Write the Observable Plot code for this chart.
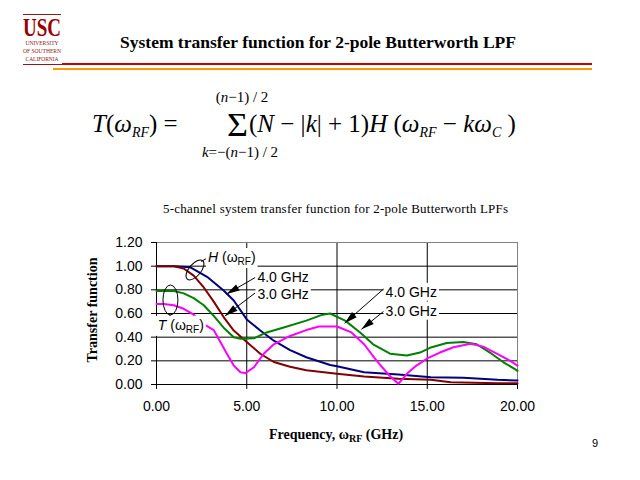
<!DOCTYPE html>
<html>
<head>
<meta charset="utf-8">
<script src="https://cdn.jsdelivr.net/npm/d3@7"></script>
<script src="https://cdn.jsdelivr.net/npm/@observablehq/plot@0.6"></script>
<style>
  body { margin: 0; background: #fff; }
  #wrap { position: relative; width: 640px; height: 480px; overflow: hidden; }
  #wrap > svg.deco { position: absolute; left: 0; top: 0; }
</style>
</head>
<body>
<div id="wrap"></div>
<script>
// ---- Data ----
// H(ωRF), 2-pole Butterworth LPF, 4.0 GHz cutoff (navy)
const freqH4 = [0, 1.0, 1.88, 2.8, 3.72, 4.28, 5.0, 5.75, 6.5, 7.4, 8.3, 9.62, 10, 11.5, 13.4, 15.2, 17.0, 18.9, 20];
const valH4  = [1.00, 1.00, 0.99, 0.91, 0.795, 0.71, 0.55, 0.456, 0.37, 0.29, 0.23, 0.165, 0.155, 0.104, 0.085, 0.062, 0.057, 0.040, 0.034];
// H(ωRF), 3.0 GHz cutoff (dark red)
const freqH3 = [0, 0.96, 1.51, 2.06, 2.62, 3.17, 3.72, 4.28, 5.0, 5.75, 6.5, 7.4, 8.3, 10, 11.5, 13.4, 15.2, 16.3, 18.9, 20];
const valH3  = [1.00, 1.00, 0.98, 0.92, 0.82, 0.70, 0.57, 0.456, 0.36, 0.26, 0.19, 0.15, 0.12, 0.09, 0.068, 0.048, 0.04, 0.02, 0.011, 0.011];
// T(ωRF), 4.0 GHz (green)
const freqT4 = [0, 0.96, 1.51, 2.06, 2.62, 3.17, 3.72, 4.28, 4.65, 5.4, 6.1, 7.0, 8.3, 9.2, 9.62, 10.45, 11.28, 12.0, 12.94, 13.87, 14.6, 15.15, 16.08, 17.0, 17.74, 18.47, 19.2, 19.86, 20];
const valT4  = [0.79, 0.79, 0.77, 0.73, 0.67, 0.58, 0.48, 0.40, 0.386, 0.39, 0.44, 0.48, 0.54, 0.59, 0.60, 0.54, 0.44, 0.34, 0.26, 0.245, 0.27, 0.31, 0.35, 0.36, 0.34, 0.27, 0.19, 0.13, 0.115];
// T(ωRF), 3.0 GHz (magenta)
const freqT3 = [0, 0.4, 0.96, 1.51, 2.06, 2.62, 3.17, 3.5, 3.9, 4.28, 4.65, 4.92, 5.4, 5.94, 6.5, 7.4, 8.3, 9.0, 10, 10.8, 11.5, 12.2, 12.9, 13.4, 13.87, 14.4, 15.0, 15.7, 16.45, 17.4, 18.1, 18.85, 19.6, 20];
const valT3  = [0.68, 0.68, 0.67, 0.64, 0.59, 0.51, 0.46, 0.37, 0.26, 0.16, 0.104, 0.096, 0.146, 0.26, 0.34, 0.41, 0.46, 0.49, 0.49, 0.44, 0.34, 0.20, 0.076, 0.006, 0.09, 0.16, 0.22, 0.27, 0.315, 0.344, 0.32, 0.26, 0.20, 0.16];

const seriesNames  = ["H 4.0 GHz", "H 3.0 GHz", "T 4.0 GHz", "T 3.0 GHz"];
const seriesColors = ["#000080", "#800000", "#008000", "#ff00ff"];

const xTicks = [0, 5, 10, 15, 20];
const yTicks = [0, 0.2, 0.4, 0.6, 0.8, 1.0, 1.2];
const xGrid = [5, 10, 15];
const yGrid = [0.2, 0.4, 0.6, 0.8, 1.0];

// annotation texts and anchor positions (data units)
const gLabels = ["4.0 GHz", "3.0 GHz", "4.0 GHz", "3.0 GHz"];
const gLabelF = [5.62, 5.62, 12.72, 12.72];
const gLabelV = [0.905, 0.76, 0.78, 0.62];
const arrowF1 = [5.5, 5.5, 12.62, 12.62];
const arrowV1 = [0.90, 0.77, 0.805, 0.615];
const arrowF2 = [3.91, 3.82, 10.45, 11.38];
const arrowV2 = [0.76, 0.575, 0.513, 0.462];

// ---- Build table ----
const rows = [];
[[freqH4, valH4], [freqH3, valH3], [freqT4, valT4], [freqT3, valT3]].forEach(([fs, vs], i) => {
  fs.forEach((f, j) => rows.push({series: seriesNames[i], f, v: vs[j]}));
});

const plot = Plot.plot({
  width: 640,
  height: 480,
  marginLeft: 156,
  marginRight: 123,
  marginTop: 242,
  marginBottom: 96,
  style: {fontFamily: "'Liberation Sans', Arial, sans-serif", fontSize: "14px", color: "#000", background: "#fff"},
  x: {domain: [0, 20], axis: null},
  y: {domain: [0, 1.2], axis: null},
  color: {domain: seriesNames, range: seriesColors},
  marks: [
    Plot.ruleY(yGrid, {stroke: "#000", strokeWidth: 1}),
    Plot.ruleX(xGrid, {stroke: "#000", strokeWidth: 1}),
    Plot.ruleY([1.2], {stroke: "#808080"}),
    Plot.ruleX([20], {stroke: "#808080"}),
    Plot.ruleX([0], {stroke: "#000"}),
    Plot.ruleY([0], {stroke: "#000"}),
    Plot.axisY(yTicks, {tickFormat: d3.format(".2f"), tickSize: 5, tickPadding: 9, label: null, fontSize: 14}),
    Plot.axisX(xTicks, {tickFormat: d3.format(".2f"), tickSize: 5, tickPadding: 12, label: null, fontSize: 14}),
    Plot.line(rows, {x: "f", y: "v", z: "series", stroke: "series", strokeWidth: 2, curve: "linear"})
  ]
});
document.getElementById("wrap").appendChild(plot);

// ---- annotations, placed through the plot's own scales ----
const X = v => plot.scale("x").apply(v);
const Y = v => plot.scale("y").apply(v);
const ann = d3.select(plot).append("g")
  .attr("font-family", "'Liberation Sans', Arial, sans-serif")
  .attr("font-size", 14)
  .attr("text-anchor", "start")
  .attr("fill", "#000");
const arrows = ann.append("g");
const labels = ann.append("g");

function boxed(textSel) {
  const bb = textSel.node().getBBox();
  labels.insert("rect", () => textSel.node())
    .attr("x", bb.x - 2).attr("y", bb.y - 1)
    .attr("width", bb.width + 4).attr("height", bb.height + 2)
    .attr("fill", "#fff");
}

// frequency labels
gLabels.forEach((t, i) => {
  const tx = labels.append("text").attr("x", X(gLabelF[i])).attr("y", Y(gLabelV[i])).attr("dy", "0.36em").text(t);
  boxed(tx);
});

function omegaLabel(letter, f, v) {
  const t = labels.append("text").attr("x", X(f)).attr("y", Y(v)).attr("dy", "0.36em");
  t.append("tspan").attr("font-style", "italic").text(letter);
  t.append("tspan").text(" (ω");
  t.append("tspan").attr("font-size", 10).attr("dy", 3).text("RF");
  t.append("tspan").attr("dy", -3).text(")");
  boxed(t);
}
omegaLabel("H", 2.88, 1.074);
omegaLabel("T", 0.1, 0.50);

// ellipses and connectors
arrows.append("ellipse").attr("cx", X(2.16)).attr("cy", Y(0.964)).attr("rx", 6).attr("ry", 12)
  .attr("transform", `rotate(40 ${X(2.16)} ${Y(0.964)})`).attr("fill", "none").attr("stroke", "#000");
arrows.append("line").attr("x1", X(2.5)).attr("y1", Y(1.035)).attr("x2", X(2.9)).attr("y2", Y(1.07)).attr("stroke", "#000");
arrows.append("ellipse").attr("cx", X(0.80)).attr("cy", Y(0.71)).attr("rx", 7.5).attr("ry", 15)
  .attr("fill", "none").attr("stroke", "#000");
arrows.append("line").attr("x1", X(0.83)).attr("y1", Y(0.585)).attr("x2", X(0.6)).attr("y2", Y(0.56)).attr("stroke", "#000");

// arrows with filled heads
arrowF1.forEach((f1, i) => {
  const x1 = X(f1), y1 = Y(arrowV1[i]), x2 = X(arrowF2[i]), y2 = Y(arrowV2[i]);
  arrows.append("line").attr("x1", x1).attr("y1", y1).attr("x2", x2).attr("y2", y2).attr("stroke", "#000");
  const a = Math.atan2(y2 - y1, x2 - x1), L = 13, W = 3.5;
  const bx = x2 - L * Math.cos(a), by = y2 - L * Math.sin(a);
  const px = -Math.sin(a) * W, py = Math.cos(a) * W;
  arrows.append("polygon")
    .attr("points", `${x2},${y2} ${bx + px},${by + py} ${bx - px},${by - py}`)
    .attr("fill", "#000");
});

// ---- page decorations: header, formula, titles ----
const deco = d3.select("#wrap").append("svg").attr("class", "deco").attr("width", 640).attr("height", 480)
  .attr("font-family", "'Liberation Serif', 'Times New Roman', serif");

// USC logo
deco.append("line").attr("x1", 23).attr("x2", 61).attr("y1", 14.5).attr("y2", 14.5).attr("stroke", "#8b1a1a");
deco.append("text").attr("x", 23).attr("y", 36).attr("font-size", 25).attr("font-weight", "bold")
  .attr("fill", "#990000").attr("textLength", 38).attr("lengthAdjust", "spacingAndGlyphs").text("USC");
[["UNIVERSITY", 45, 33], ["OF SOUTHERN", 53, 38], ["CALIFORNIA", 61, 33]].forEach(([t, y, w]) => {
  deco.append("text").attr("x", 42).attr("y", y).attr("text-anchor", "middle").attr("font-size", 6)
    .attr("fill", "#8b1a1a").attr("textLength", w).attr("lengthAdjust", "spacingAndGlyphs").text(t);
});
deco.append("line").attr("x1", 23).attr("x2", 62).attr("y1", 64.5).attr("y2", 64.5).attr("stroke", "#8b1a1a");
deco.append("rect").attr("x", 62).attr("y", 63).attr("width", 530).attr("height", 2).attr("fill", "#cc0000");
deco.append("rect").attr("x", 53).attr("y", 68).attr("width", 539).attr("height", 2).attr("fill", "#ff9900");

// title
deco.append("text").attr("x", 318).attr("y", 48).attr("text-anchor", "middle").attr("font-size", 17.5)
  .attr("font-weight", "bold").text("System transfer function for 2-pole Butterworth LPF");

// formula
const f1 = deco.append("text").attr("x", 92).attr("y", 132).attr("font-size", 25);
f1.append("tspan").attr("font-style", "italic").text("T");
f1.append("tspan").text("(");
f1.append("tspan").attr("font-style", "italic").text("ω");
f1.append("tspan").attr("font-style", "italic").attr("font-size", 14).attr("dy", 5).text("RF");
f1.append("tspan").attr("dy", -5).text(") =");
deco.append("text").attr("x", 227).attr("y", 136).attr("font-size", 34)
  .attr("textLength", 21).attr("lengthAdjust", "spacingAndGlyphs").text("Σ");
const up = deco.append("text").attr("x", 242).attr("y", 102).attr("text-anchor", "middle").attr("font-size", 15);
up.append("tspan").text("(");
up.append("tspan").attr("font-style", "italic").text("n");
up.append("tspan").text("−1) / 2");
const lo = deco.append("text").attr("x", 240).attr("y", 157).attr("text-anchor", "middle").attr("font-size", 15);
lo.append("tspan").attr("font-style", "italic").text("k");
lo.append("tspan").text("=−(");
lo.append("tspan").attr("font-style", "italic").text("n");
lo.append("tspan").text("−1) / 2");
const f2 = deco.append("text").attr("x", 249).attr("y", 132).attr("font-size", 25);
f2.append("tspan").text("(");
f2.append("tspan").attr("font-style", "italic").text("N");
f2.append("tspan").text(" − |");
f2.append("tspan").attr("font-style", "italic").text("k");
f2.append("tspan").text("| + 1)");
f2.append("tspan").attr("font-style", "italic").text("H");
f2.append("tspan").text(" (");
f2.append("tspan").attr("font-style", "italic").text("ω");
f2.append("tspan").attr("font-style", "italic").attr("font-size", 14).attr("dy", 5).text("RF");
f2.append("tspan").attr("dy", -5).text(" − ");
f2.append("tspan").attr("font-style", "italic").text("kω");
f2.append("tspan").attr("font-style", "italic").attr("font-size", 14).attr("dy", 5).text("C");
f2.append("tspan").attr("dy", -5).text(" )");

// subtitle
deco.append("text").attr("x", 163).attr("y", 213).attr("font-size", 13)
  .attr("textLength", 345).attr("lengthAdjust", "spacing")
  .text("5-channel system transfer function for 2-pole Butterworth LPFs");

// axis titles
deco.append("text").attr("transform", "translate(97,310) rotate(-90)").attr("text-anchor", "middle")
  .attr("font-size", 14).attr("font-weight", "bold").text("Transfer function");
const xt = deco.append("text").attr("x", 336).attr("y", 439).attr("text-anchor", "middle")
  .attr("font-size", 14).attr("font-weight", "bold");
xt.append("tspan").text("Frequency, ω");
xt.append("tspan").attr("font-size", 10).attr("dy", 3).text("RF");
xt.append("tspan").attr("dy", -3).text(" (GHz)");

// page number
deco.append("text").attr("x", 595).attr("y", 447).attr("text-anchor", "middle")
  .attr("font-family", "'Liberation Sans', Arial, sans-serif").attr("font-size", 11).text("9");
</script>
</body>
</html>
